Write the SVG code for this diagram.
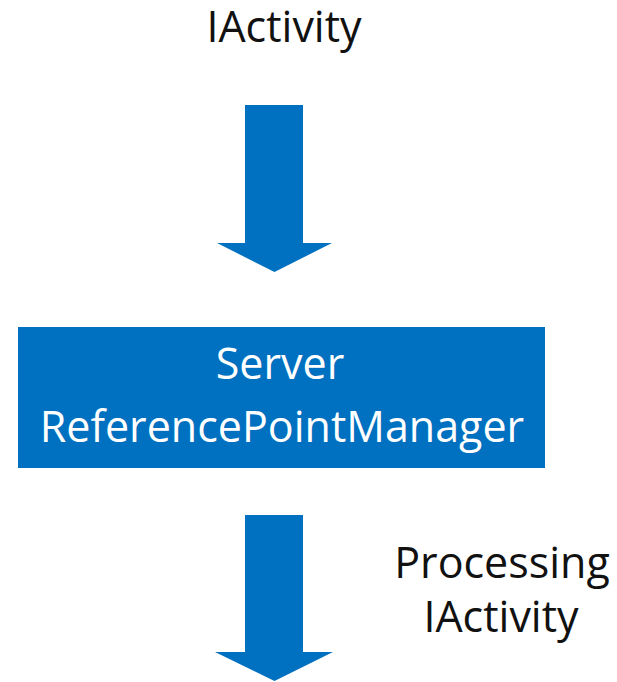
<svg xmlns="http://www.w3.org/2000/svg" width="617" height="682" viewBox="0 0 617 682">
  <defs>
    <style>
      .lbl { font-family: "Open Sans", "Liberation Sans", sans-serif; font-size: 43px; fill: #111111; text-anchor: middle; }
      .box-lbl { font-family: "Open Sans", "Liberation Sans", sans-serif; font-size: 43px; fill: #ffffff; text-anchor: middle; }
      .box { fill: #0070c0; }
      .arrow { fill: #0070c0; }
    </style>
  </defs>
  <rect width="617" height="682" fill="#ffffff"/>

  <!-- incoming activity label -->
  <g id="input-label">
    <text class="lbl" x="284" y="42">IActivity</text>
  </g>

  <!-- central manager node -->
  <g id="reference-point-manager">
    <rect class="box" x="18" y="327" width="527" height="141"/>
    <text class="box-lbl" x="280" y="379">Server</text>
    <text class="box-lbl" x="282" y="442">ReferencePointManager</text>
  </g>

  <!-- output label -->
  <g id="output-label">
    <text class="lbl" x="502" y="578">Processing</text>
    <text class="lbl" x="501" y="632">IActivity</text>
  </g>

  <!-- block arrows -->
  <g id="connectors">
    <path class="arrow" d="M245 105 H303 V243 H332 L274.5 272 L217 243 H245 Z"/>
    <path class="arrow" d="M245 515 H303 V652 H333 L274.5 681 L215 652 H245 Z"/>
  </g>
</svg>
